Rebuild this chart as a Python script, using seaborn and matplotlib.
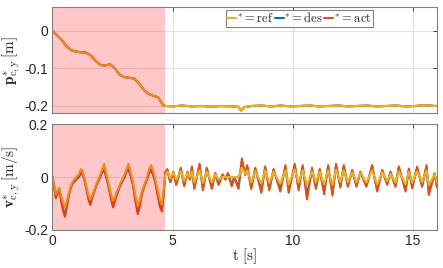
import numpy as np
import pandas as pd
import seaborn as sns
import matplotlib
matplotlib.use('Agg')
import matplotlib.pyplot as plt

# Data

# position (top panel), ref/des/act lie on top of each other
p_t = [0.0, 0.2, 0.4, 0.6, 0.8, 1.0, 1.2, 1.4, 1.6, 1.8,
       2.0, 2.2, 2.4, 2.6, 2.8, 3.0, 3.2, 3.4, 3.6, 3.8,
       4.0, 4.2, 4.4, 4.6, 4.7,
       5.0, 5.4, 5.8, 6.2, 6.6, 7.0, 7.4, 7.7, 7.85, 8.0,
       8.3, 8.7, 9.1, 9.5, 9.9, 10.3, 10.7, 11.1, 11.5, 11.9,
       12.3, 12.7, 13.1, 13.5, 13.9, 14.3, 14.7, 15.1, 15.5, 15.9, 16.0]
p_ref = [0.0, -0.012, -0.025, -0.042, -0.052, -0.055, -0.057, -0.058, -0.065, -0.080,
         -0.091, -0.092, -0.089, -0.100, -0.117, -0.123, -0.125, -0.127, -0.140, -0.157,
         -0.168, -0.173, -0.177, -0.198, -0.200,
         -0.201, -0.199, -0.201, -0.200, -0.202, -0.200, -0.201, -0.201, -0.212, -0.203,
         -0.200, -0.199, -0.201, -0.199, -0.201, -0.200, -0.199, -0.201, -0.200, -0.199,
         -0.201, -0.200, -0.199, -0.201, -0.200, -0.199, -0.201, -0.200, -0.198, -0.200, -0.200]
p_des = list(p_ref)
p_act = list(p_ref)

# velocity (bottom panel)
v_t = [0.00, 0.07, 0.14, 0.22, 0.28, 0.36, 0.45, 0.52, 0.60, 0.70,
       0.80, 0.90, 1.00, 1.10, 1.18, 1.25, 1.33, 1.42, 1.50, 1.57,
       1.65, 1.75, 1.85, 1.95, 2.05, 2.15, 2.22, 2.32, 2.42, 2.52,
       2.60, 2.70, 2.80, 2.90, 3.00, 3.10, 3.16, 3.25, 3.35, 3.45,
       3.55, 3.63, 3.72, 3.82, 3.92, 4.02, 4.10, 4.18, 4.28, 4.38,
       4.48, 4.55, 4.62, 4.70,
       4.78, 4.90, 5.03, 5.15, 5.34, 5.48, 5.62, 5.72, 5.80, 5.90,
       6.12, 6.26, 6.42, 6.63, 6.77, 6.91, 7.08, 7.20, 7.30, 7.46,
       7.56, 7.74, 7.88, 8.02, 8.10, 8.27, 8.44, 8.69, 8.85, 9.02,
       9.20, 9.48, 9.69, 9.83, 10.08, 10.24, 10.41, 10.59, 10.80, 10.96,
       11.12, 11.30, 11.47, 11.65, 11.80, 11.98, 12.12, 12.29, 12.47, 12.65,
       12.81, 13.06, 13.30, 13.51, 13.72, 13.93, 14.06, 14.27, 14.41, 14.69,
       14.83, 14.97, 15.17, 15.38, 15.56, 15.66, 15.90, 16.00]

v_act = [0.000, -0.040, -0.080, -0.060, -0.045, -0.090, -0.130, -0.150, -0.110, -0.060,
         -0.030, -0.015, -0.005, 0.005, 0.020, 0.015, -0.010, -0.050, -0.085, -0.105,
         -0.080, -0.050, -0.025, -0.005, 0.020, 0.030, 0.010, -0.030, -0.075, -0.115,
         -0.090, -0.060, -0.035, -0.015, 0.005, 0.030, 0.035, 0.010, -0.030, -0.090,
         -0.140, -0.110, -0.065, -0.035, -0.010, 0.020, 0.030, 0.015, -0.020, -0.070,
         -0.115, -0.130, -0.070, 0.020,
         0.030, -0.020, 0.020, -0.030, 0.035, -0.035, 0.020, -0.010, 0.040, -0.045,
         0.050, -0.050, 0.035, -0.045, 0.015, -0.030, 0.010, -0.010, 0.015, -0.035,
         0.000, -0.045, 0.070, 0.010, 0.045, -0.045, 0.035, -0.060, 0.040, -0.050,
         0.030, -0.055, 0.045, -0.060, 0.050, -0.050, 0.045, -0.085, 0.035, -0.045,
         0.030, -0.065, 0.045, -0.070, 0.050, -0.040, 0.045, -0.037, 0.027, -0.037,
         0.020, -0.037, 0.045, -0.055, 0.027, -0.030, 0.020, -0.037, 0.040, -0.055,
         0.032, -0.043, 0.039, -0.037, 0.045, -0.068, 0.014, -0.040]

v_des = [0.000, -0.035, -0.075, -0.055, -0.045, -0.085, -0.125, -0.145, -0.105, -0.060,
         -0.030, -0.018, -0.008, 0.000, 0.015, 0.010, -0.010, -0.045, -0.080, -0.100,
         -0.075, -0.050, -0.025, -0.008, 0.015, 0.025, 0.005, -0.030, -0.070, -0.110,
         -0.085, -0.060, -0.035, -0.018, 0.000, 0.025, 0.030, 0.005, -0.030, -0.085,
         -0.135, -0.105, -0.060, -0.035, -0.012, 0.015, 0.025, 0.010, -0.020, -0.065,
         -0.110, -0.125, -0.070, 0.015,
         0.025, -0.018, 0.017, -0.026, 0.030, -0.030, 0.017, -0.008, 0.034, -0.038,
         0.042, -0.042, 0.030, -0.038, 0.013, -0.026, 0.008, -0.008, 0.013, -0.030,
         0.000, -0.038, 0.060, 0.008, 0.038, -0.038, 0.030, -0.050, 0.034, -0.042,
         0.026, -0.047, 0.038, -0.050, 0.042, -0.042, 0.038, -0.070, 0.030, -0.038,
         0.026, -0.055, 0.038, -0.058, 0.042, -0.034, 0.038, -0.032, 0.023, -0.032,
         0.017, -0.032, 0.038, -0.047, 0.023, -0.026, 0.017, -0.032, 0.034, -0.047,
         0.027, -0.037, 0.033, -0.032, 0.038, -0.058, 0.012, -0.034]

v_ref = [0.000, -0.030, -0.065, -0.050, -0.040, -0.070, -0.100, -0.115, -0.090, -0.055,
         -0.025, -0.010, 0.000, 0.010, 0.030, 0.025, -0.005, -0.040, -0.070, -0.085,
         -0.070, -0.045, -0.020, 0.000, 0.025, 0.050, 0.020, -0.020, -0.060, -0.090,
         -0.075, -0.050, -0.030, -0.010, 0.010, 0.035, 0.050, 0.020, -0.020, -0.070,
         -0.110, -0.090, -0.055, -0.030, -0.005, 0.030, 0.045, 0.025, -0.010, -0.050,
         -0.090, -0.105, -0.050, 0.010,
         0.020, -0.005, 0.018, -0.010, 0.022, -0.015, 0.015, 0.000, 0.020, -0.020,
         0.025, -0.022, 0.020, -0.020, 0.010, -0.010, 0.000, 0.000, 0.000, 0.000,
         0.000, 0.000, 0.035, 0.012, 0.025, -0.020, 0.022, -0.025, 0.025, -0.022,
         0.020, -0.025, 0.025, -0.028, 0.028, -0.022, 0.025, -0.030, 0.022, -0.020,
         0.020, -0.028, 0.025, -0.030, 0.028, -0.018, 0.025, -0.020, 0.018, -0.020,
         0.015, -0.020, 0.025, -0.028, 0.018, -0.015, 0.012, -0.020, 0.022, -0.028,
         0.020, -0.022, 0.022, -0.020, 0.025, -0.030, 0.010, -0.020]

shade_end = 4.67

# MATLAB default colours
c_ref = '#EDB120'
c_des = '#0072BD'
c_act = '#D95319'

sns.set_style('white')
plt.rcParams['font.family'] = ['Liberation Sans', 'DejaVu Sans']
plt.rcParams['mathtext.fontset'] = 'cm'
plt.rcParams['axes.unicode_minus'] = False

fig = plt.figure(figsize=(4.43, 2.68), dpi=100)
ax1 = fig.add_axes([0.1185, 0.578, 0.868, 0.396])
ax2 = fig.add_axes([0.1185, 0.142, 0.868, 0.395])

pos = pd.DataFrame({'t': p_t, 'ref': p_ref, 'des': p_des, 'act': p_act})
vel = pd.DataFrame({'t': v_t, 'ref': v_ref, 'des': v_des, 'act': v_act})

for ax, df in [(ax1, pos), (ax2, vel)]:
    # des first, then act, ref on top
    sns.lineplot(data=df, x='t', y='des', ax=ax, color=c_des, lw=1.5, label=r'$^{*} = \mathrm{des}$')
    sns.lineplot(data=df, x='t', y='act', ax=ax, color=c_act, lw=1.5, label=r'$^{*} = \mathrm{act}$')
    sns.lineplot(data=df, x='t', y='ref', ax=ax, color=c_ref, lw=1.5, label=r'$^{*} = \mathrm{ref}$')
    ax.axvspan(0, shade_end, color='red', alpha=0.22, lw=0, zorder=5)
    ax.set_xlim(0, 16)
    ax.set_xticks([0, 5, 10, 15])
    ax.grid(True, color='#e3e3e3', lw=0.8)
    ax.tick_params(direction='in', length=3, width=0.6, colors='#262626',
                   labelsize=10, top=True, right=True, pad=3)
    for s in ax.spines.values():
        s.set_color('#808080')
        s.set_linewidth(0.8)
        s.set_zorder(10)

ax1.set_ylim(-0.219, 0.064)
ax1.set_yticks([-0.2, -0.1, 0])
ax1.set_yticklabels(['-0.2', '-0.1', '0'])
ax1.set_xticklabels([])
ax1.set_xlabel('')
ax1.set_ylabel(r'$\mathbf{p}^{*}_{\mathrm{c,y}}\,[\mathrm{m}]$', fontsize=11, labelpad=2)

ax2.set_ylim(-0.2, 0.2)
ax2.set_yticks([-0.2, 0, 0.2])
ax2.set_yticklabels(['-0.2', '0', '0.2'])
ax2.set_xticklabels(['0', '5', '10', '15'])
ax2.set_xlabel(r'$\mathrm{t}\ [\mathrm{s}]$', fontsize=11, labelpad=-1)
ax2.set_ylabel(r'$\mathbf{v}^{*}_{\mathrm{c,y}}\,[\mathrm{m/s}]$', fontsize=11, labelpad=2)
ax2.get_legend().remove()

# legend in order ref, des, act
h, l = ax1.get_legend_handles_labels()
order = [2, 0, 1]
leg = ax1.legend([h[i] for i in order], [l[i] for i in order], ncol=3,
                 loc='upper right', bbox_to_anchor=(0.834, 0.975), fontsize=9,
                 handlelength=0.7, handletextpad=0.05, columnspacing=0.1,
                 borderpad=0.15, borderaxespad=0.0, fancybox=False, framealpha=1)
leg.get_frame().set_edgecolor('#808080')
leg.get_frame().set_linewidth(0.8)
leg.set_zorder(20)

fig.savefig('out.png', dpi=100)
